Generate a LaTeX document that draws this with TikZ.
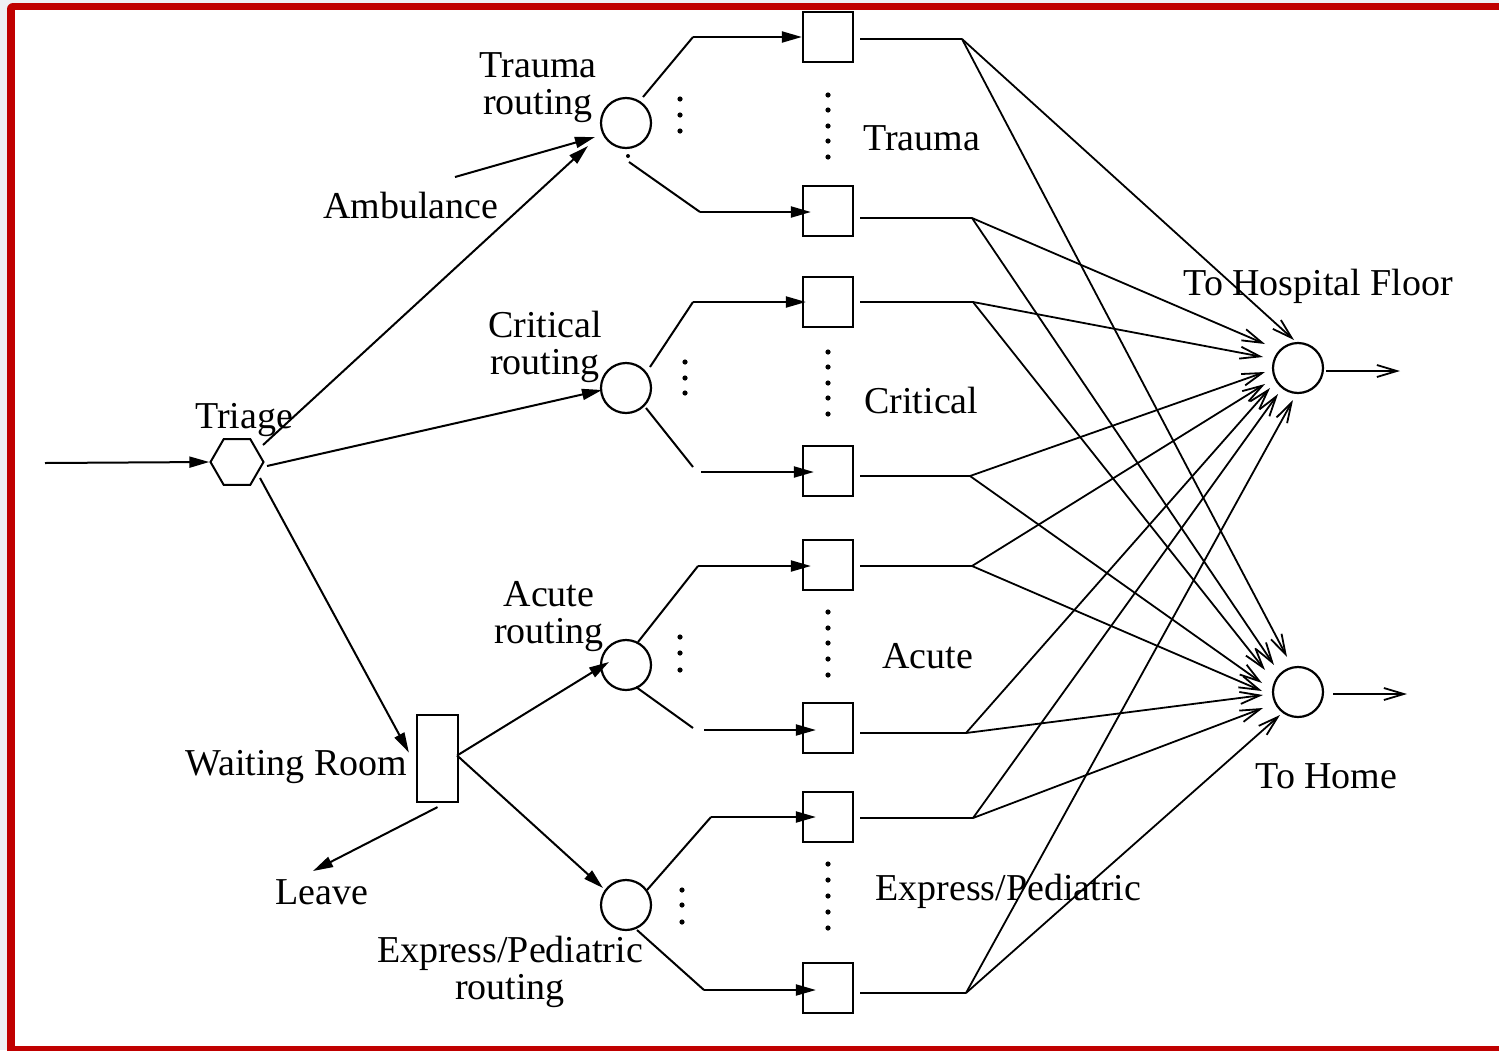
\documentclass[tikz,border=0pt]{standalone}
\usepackage{fontspec}
\setmainfont{Liberation Serif}
\usetikzlibrary{arrows.meta,calc,shapes.geometric}
\definecolor{framered}{HTML}{C00000}
\definecolor{pagegray}{HTML}{EEF0F4}
\tikzset{
  txt/.style={inner sep=0pt, anchor=base west, font=\fontsize{19pt}{18.5pt}\selectfont},
  twoline/.style={inner sep=0pt, anchor=base, align=center, font=\fontsize{19pt}{18.5pt}\selectfont},
  plainline/.style={line width=1pt},
  fillarrow/.style={line width=1pt, -{Triangle[length=10pt,width=5.5pt]}},
  openarrow/.style={line width=0.9pt, -{Straight Barb[length=10pt,width=6pt]}},
  station/.style={circle, draw, line width=1.1pt, minimum size=25pt, inner sep=0pt},
  queuebox/.style={rectangle, draw, line width=1.1pt, minimum size=25pt, inner sep=0pt},
  hexnode/.style={regular polygon, regular polygon sides=6, draw, line width=1pt, minimum size=26.5pt, inner sep=0pt},
}
\begin{document}
\begin{tikzpicture}[x=0.5pt,y=-0.5pt]
\useasboundingbox (0,0) rectangle (1499,1050);
\begin{scope}
\clip (0,0) rectangle (1499,1050);
% page and red frame
\fill[pagegray] (0,0) rectangle (1499,1050);
\fill[framered, rounded corners=3pt] (7,3) rectangle (1530,1080);
\fill[white] (15,10) rectangle (1530,1046);
\end{scope}

% stations
\node[hexnode] (tri) at (237,462) {};
\node[station] (rT) at (626,123) {};
\node[station] (rC) at (626,388) {};
\node[station] (rA) at (626,665) {};
\node[station] (rE) at (626,905) {};
\node[station] (hosp) at (1298,368) {};
\node[station] (home) at (1298,692) {};
\node[draw, line width=1.1pt, minimum width=20.5pt, minimum height=43.5pt, inner sep=0pt] (wait) at (437.5,758.5) {};

% queues
\node[queuebox] (qT1) at (828,37) {};
\node[queuebox] (qT2) at (828,211) {};
\node[queuebox] (qC1) at (828,302) {};
\node[queuebox] (qC2) at (828,471) {};
\node[queuebox] (qA1) at (828,565) {};
\node[queuebox] (qA2) at (828,728) {};
\node[queuebox] (qE1) at (828,817) {};
\node[queuebox] (qE2) at (828,988) {};

% labels
\node[txt] (lTri) at (195,428) {Triage};
\node[txt] (lAmb) at (323,218) {Ambulance};
\node[txt] (lWait) at (185,775) {Waiting Room};
\node[txt] (lLeave) at (275,904) {Leave};
\node[txt] (lT) at (863,150) {Trauma};
\node[txt] (lC) at (864,413) {Critical};
\node[txt] (lA) at (882,668) {Acute};
\node[txt] (lE) at (875,900) {Express/Pediatric};
\node[txt] (lHosp) at (1183,295) {To Hospital Floor};
\node[txt] (lHome) at (1255,788) {To Home};
\node[twoline] (lrT) at (538,114) {Trauma\\routing};
\node[twoline] (lrC) at (545,374) {Critical\\routing};
\node[twoline] (lrA) at (549,643) {Acute\\routing};
\node[twoline] (lrE) at (510,999) {Express/Pediatric\\routing};

% arrivals and triage
\coordinate (entry) at (45,463);
\coordinate (ambStart) at (455,177);
\coordinate (leaveEnd) at (313,871);
\draw[fillarrow] (entry) -- (tri.west);
\draw[fillarrow] ($(tri)+(26,-17)$) -- ($(rT)+(-38,23)$);
\draw[fillarrow] (ambStart) -- ($(rT)+(-31,14)$);
\draw[fillarrow] ($(tri)+(30,4)$) -- ($(rC)+(-24,2)$);
\draw[fillarrow] ($(tri)+(23,16)$) -- ($(wait.west)+(-7,-6)$);
\draw[fillarrow] ($(wait.south)+(0,4)$) -- (leaveEnd);
\draw[fillarrow] ($(wait.east)+(-2,-3)$) -- ($(rA)+(-17,-3)$);
\draw[fillarrow] ($(wait.east)+(-2,-3)$) -- ($(rE)+(-23,-17)$);

% routing to queues
\coordinate (kT1) at (693,37);
\coordinate (kT2) at (700,212);
\draw[plainline] ($(rT)+(17,-26)$) -- (kT1);
\draw[fillarrow] (kT1) -- (qT1.west);
\fill ($(rT)+(2,33)$) circle (1pt);
\draw[plainline] ($(rT)+(3,39)$) -- (kT2);
\draw[fillarrow] (kT2) -- ($(qT2.west)+(9,1)$);

\coordinate (kC1) at (693,302);
\coordinate (kC2a) at (693,467);
\coordinate (kC2b) at (701,472);
\draw[plainline] ($(rC)+(24,-21)$) -- (kC1);
\draw[fillarrow] (kC1) -- ($(qC1.west)+(4,0)$);
\draw[plainline] ($(rC)+(20,20)$) -- (kC2a);
\draw[fillarrow] (kC2b) -- ($(qC2.west)+(12,1)$);

\coordinate (kA1) at (698,566);
\coordinate (kA2a) at (693,728);
\coordinate (kA2b) at (704,730);
\draw[plainline] ($(rA)+(12,-23)$) -- (kA1);
\draw[fillarrow] (kA1) -- ($(qA1.west)+(9,1)$);
\draw[plainline] ($(rA)+(10,22)$) -- (kA2a);
\draw[fillarrow] (kA2b) -- ($(qA2.west)+(14,2)$);

\coordinate (kE1) at (711,817);
\coordinate (kE2) at (704,990);
\draw[plainline] ($(rE)+(21,-15)$) -- (kE1);
\draw[fillarrow] (kE1) -- ($(qE1.west)+(14,0)$);
\draw[plainline] ($(rE)+(11,25)$) -- (kE2);
\draw[fillarrow] (kE2) -- ($(qE2.west)+(14,2)$);

% ellipses between queues
\foreach \x/\y in {680/99, 680/115, 680/131, 685/362, 685/378, 685/393,
                   680/637, 680/653, 680/670, 682/890, 682/905, 682/922}
  \fill (\x,\y) circle (1.3pt);
\foreach \y in {95,110,126,141,157, 352,367,383,398,414,
                612,628,643,659,675, 864,880,896,912,928}
  \fill (828,\y) circle (1.3pt);

% queue exits
\coordinate (jT1) at (962,39);
\coordinate (jT2) at (972,218);
\coordinate (jC1) at (973,302);
\coordinate (jC2) at (970,476);
\coordinate (jA1) at (972,566);
\coordinate (jA2) at (966,733);
\coordinate (jE1) at (973,818);
\coordinate (jE2) at (966,993);
\foreach \q in {T1,T2,C1,C2,A1,A2,E1,E2}
  \draw[plainline, shorten >=3pt] (j\q) -- (j\q -| q\q.east);

% fan-out to the two exits
\foreach \q/\hx/\hy/\mx/\my in {T1/-4/-28/-11/-35, T2/-33/-24/-24/-27,
    C1/-35/-11/-33/-22, C2/-33/4/-36/-9, A1/-33/16/-36/-1,
    A2/-28/20/-35/3, E1/-20/26/-35/16, E2/-5/32/-18/23} {
  \draw[openarrow] (j\q) -- ($(hosp)+(\hx,\hy)$);
  \draw[openarrow] (j\q) -- ($(home)+(\mx,\my)$);
}

% departures
\coordinate (hospOut) at (1400,371);
\coordinate (homeOut) at (1407,694);
\draw[openarrow] ($(hosp.east)+(2,3)$) -- (hospOut);
\draw[openarrow] ($(home.east)+(9,2)$) -- (homeOut);
\end{tikzpicture}
\end{document}
